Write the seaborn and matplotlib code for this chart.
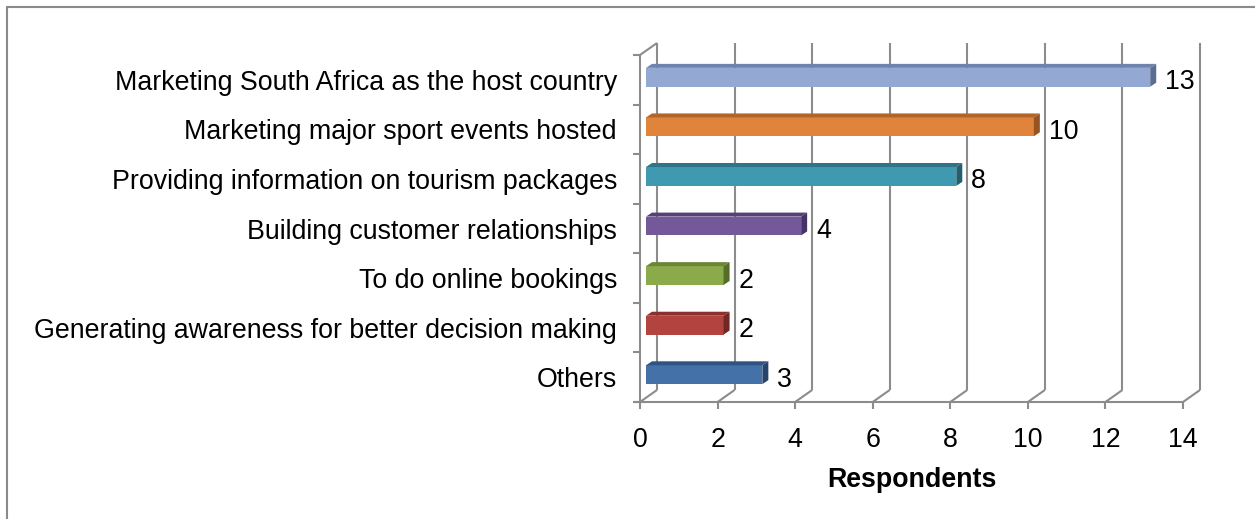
import matplotlib
matplotlib.use("Agg")
import matplotlib.pyplot as plt
import matplotlib.transforms as mtransforms
from matplotlib.lines import Line2D
from matplotlib.patches import Polygon
import pandas as pd
import seaborn as sns

# ---- data ----
categories = [
    "Marketing South Africa as the host country",
    "Marketing major sport events hosted",
    "Providing information on tourism packages",
    "Building customer relationships",
    "To do online bookings",
    "Generating awareness for better decision making",
    "Others",
]
respondents = [13, 10, 8, 4, 2, 2, 3]
x_ticks = [0, 2, 4, 6, 8, 10, 12, 14]

# front / top / side shades of each bar
face_colors = ["#93A9D3", "#E0843B", "#3F99B0", "#73589A", "#8BAA4A", "#B3433F", "#4471A8"]
top_colors = ["#6F84AD", "#B2652A", "#2D7587", "#57407A", "#6A8533", "#8B302D", "#2F5483"]
side_colors = ["#5B6D93", "#955422", "#235F6E", "#463366", "#566D29", "#722724", "#25446B"]

sns.set_style("white")
plt.rcParams["font.family"] = ["Liberation Sans", "DejaVu Sans"]
plt.rcParams["text.color"] = "black"
plt.rcParams["axes.labelcolor"] = "black"
plt.rcParams["xtick.labelcolor"] = "black"
plt.rcParams["ytick.labelcolor"] = "black"
FS = 19.3
GRID = "#8c8c8c"

W, H = 1255, 519
fig = plt.figure(figsize=(W / 100, H / 100), dpi=100)
fig.patch.set_facecolor("white")

# front plane of the plot box, in pixels
L, R, T, B = 640, 1183, 55, 402
ax = fig.add_axes([L / W, 1 - B / H, (R - L) / W, (B - T) / H])

df = pd.DataFrame({"Reason": categories, "Respondents": respondents})
sns.barplot(data=df, x="Respondents", y="Reason", hue="Reason", palette=face_colors,
            orient="h", width=0.38, legend=False, saturation=1, ax=ax, zorder=3,
            linewidth=0)

ax.set_xlim(0, 14)
ax.set_ylim(6.5, -0.5)
ax.set_facecolor("none")
ax.grid(False)
for s in ax.spines.values():
    s.set_visible(False)

ax.set_xticks(x_ticks)
ax.set_xticklabels([str(t) for t in x_ticks], fontsize=FS)
ax.tick_params(axis="x", length=0, pad=18, labelcolor="black")
ax.tick_params(axis="y", length=0, pad=16.6, labelsize=FS, labelcolor="black")
ax.set_ylabel("")
ax.set_xlabel("Respondents", fontsize=FS, fontweight="bold", labelpad=10, color="black")

ID = mtransforms.IdentityTransform()


def px(xd, yd, dx=0.0, dy=0.0):
    d = ax.transData.transform((xd, yd))
    return (d[0] + dx, d[1] + dy)


def seg(p0, p1, z=1):
    ax.add_line(Line2D([p0[0], p1[0]], [p0[1], p1[1]], transform=ID, color=GRID,
                       lw=1.5, clip_on=False, zorder=z, solid_capstyle="butt"))


# back wall offset (depth of the box)
BX, BY = 17, 12
for v in x_ticks:
    seg(px(v, -0.5, BX, BY), px(v, 6.5, BX, BY))
    seg(px(v, 6.5, BX, BY), px(v, 6.5))
    seg(px(v, 6.5), px(v, 6.5, 0, -7))
seg(px(0, 6.5, -7, 0), px(14, 6.5))
seg(px(0, -0.5), px(0, 6.5))
seg(px(0, -0.5), px(0, -0.5, BX, BY))
for k in range(8):
    seg(px(0, k - 0.5, -7, 0), px(0, k - 0.5))

# bars sit in the middle of the box depth; give them a top and an end face
SX, SY = 6, 2.5
DX, DY = 6, 4
shift = mtransforms.ScaledTranslation(SX / 100, SY / 100, fig.dpi_scale_trans)
bars = sorted([p for p in ax.patches], key=lambda p: p.get_y())
for i, p in enumerate(bars):
    x0, w = p.get_x(), p.get_width()
    y0, h = p.get_y(), p.get_height()
    p.set_transform(ax.transData + shift)
    p.set_edgecolor("none")
    tl = px(x0, y0, SX, SY)
    tr = px(x0 + w, y0, SX, SY)
    br = px(x0 + w, y0 + h, SX, SY)
    top = [tl, tr, (tr[0] + DX, tr[1] + DY), (tl[0] + DX, tl[1] + DY)]
    side = [tr, br, (br[0] + DX, br[1] + DY), (tr[0] + DX, tr[1] + DY)]
    ax.add_patch(Polygon(top, closed=True, transform=ID, facecolor=top_colors[i],
                         edgecolor="none", zorder=3, clip_on=False))
    ax.add_patch(Polygon(side, closed=True, transform=ID, facecolor=side_colors[i],
                         edgecolor="none", zorder=3, clip_on=False))

# value labels beyond the bar ends
lab_off = mtransforms.ScaledTranslation((SX + DX + 9) / 100, -2.5 / 100, fig.dpi_scale_trans)
for i, v in enumerate(respondents):
    ax.text(v, i, str(v), transform=ax.transData + lab_off, ha="left", va="center",
            fontsize=FS, color="black", zorder=4)

# outer frame (top and left edges)
fig.add_artist(Line2D([7 / W, 1], [1 - 7 / H, 1 - 7 / H], transform=fig.transFigure,
                      color="#8a8a8a", lw=1.5))
fig.add_artist(Line2D([7 / W, 7 / W], [0, 1 - 7 / H], transform=fig.transFigure,
                      color="#8a8a8a", lw=1.5))

fig.savefig("out.png", dpi=100)
